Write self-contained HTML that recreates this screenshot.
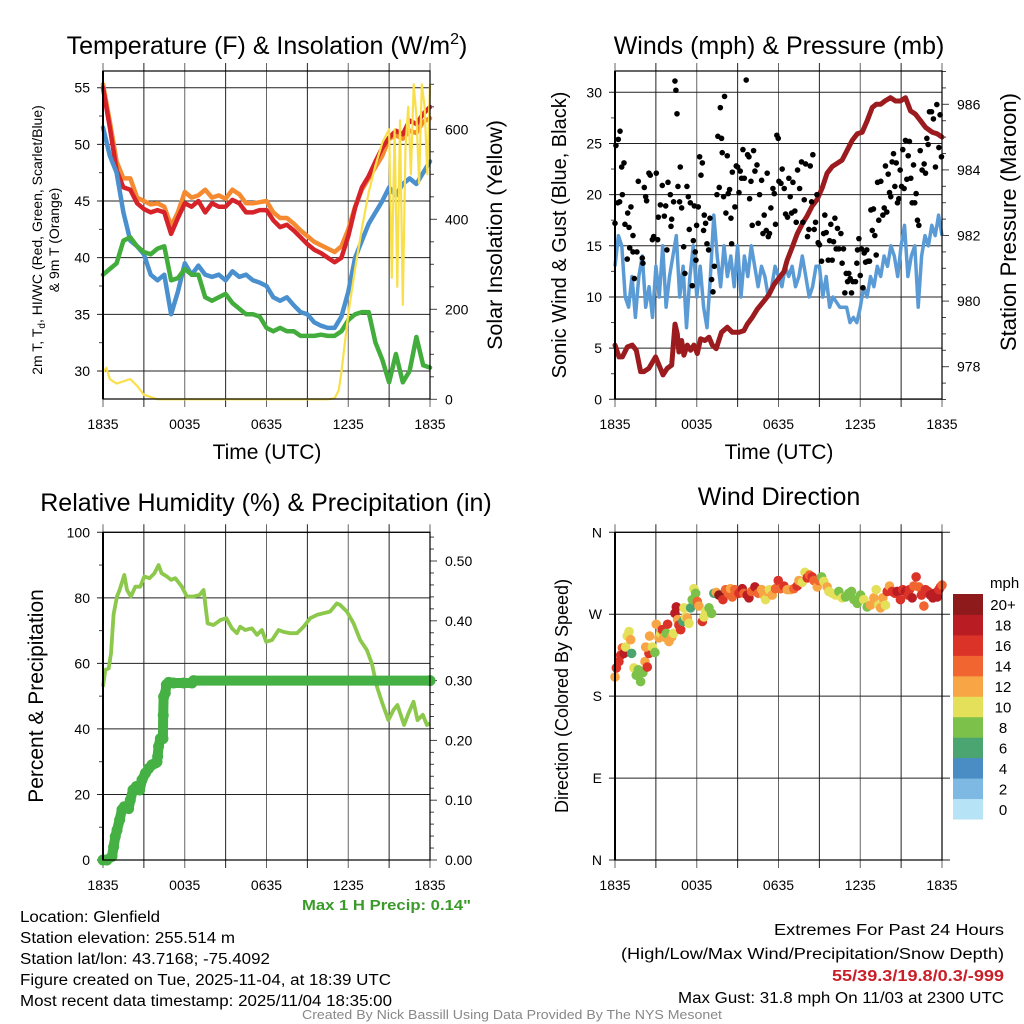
<!DOCTYPE html>
<html><head><meta charset="utf-8"><style>
html,body{margin:0;padding:0;background:#fff;}
svg{display:block;font-family:"Liberation Sans",sans-serif;}
</style></head><body>
<svg id="root" width="1024" height="1024" viewBox="0 0 1024 1024" xmlns="http://www.w3.org/2000/svg">
<rect width="1024" height="1024" fill="#fff"/>
<g id="p1"></g>
<g id="p2"></g>
<g id="p3"></g>
<g id="p4"></g>

<text x="267" y="54" font-size="25" text-anchor="middle">Temperature (F) &amp; Insolation (W/m<tspan font-size="16" dy="-10">2</tspan><tspan dy="10">)</tspan></text>
<text x="779" y="54" font-size="25" text-anchor="middle">Winds (mph) &amp; Pressure (mb)</text>
<text x="266" y="511" font-size="25" text-anchor="middle">Relative Humidity (%) &amp; Precipitation (in)</text>
<text x="779" y="505" font-size="25" text-anchor="middle">Wind Direction</text>

<text x="267" y="459" font-size="21" text-anchor="middle">Time (UTC)</text>
<text x="779" y="459" font-size="21" text-anchor="middle">Time (UTC)</text>

<text transform="translate(42,240) rotate(-90)" font-size="14" text-anchor="middle">2m T, T<tspan font-size="10" dy="3">d</tspan><tspan dy="-3">, HI/WC (Red, Green, Scarlet/Blue)</tspan></text>
<text transform="translate(59,240) rotate(-90)" font-size="14" text-anchor="middle">&amp; 9m T (Orange)</text>
<text transform="translate(502,235) rotate(-90)" font-size="21.5" text-anchor="middle">Solar Insolation (Yellow)</text>
<text transform="translate(566,235) rotate(-90)" font-size="20" text-anchor="middle">Sonic Wind &amp; Gust (Blue, Black)</text>
<text transform="translate(1016,222) rotate(-90)" font-size="22" text-anchor="middle">Station Pressure (Maroon)</text>
<text transform="translate(43,696) rotate(-90)" font-size="21" text-anchor="middle">Percent &amp; Precipitation</text>
<text transform="translate(568,696) rotate(-90)" font-size="18" text-anchor="middle">Direction (Colored By Speed)</text>

<text x="471" y="910" font-size="15" font-weight="bold" fill="#3a9a2a" text-anchor="end" textLength="169" lengthAdjust="spacingAndGlyphs">Max 1 H Precip: 0.14"</text>

<g font-size="15.5">
<text x="20" y="922" textLength="140" lengthAdjust="spacingAndGlyphs">Location: Glenfield</text>
<text x="20" y="943" textLength="215" lengthAdjust="spacingAndGlyphs">Station elevation: 255.514 m</text>
<text x="20" y="964" textLength="250" lengthAdjust="spacingAndGlyphs">Station lat/lon: 43.7168; -75.4092</text>
<text x="20" y="985" textLength="371" lengthAdjust="spacingAndGlyphs">Figure created on Tue, 2025-11-04, at 18:39 UTC</text>
<text x="20" y="1006" textLength="372" lengthAdjust="spacingAndGlyphs">Most recent data timestamp: 2025/11/04 18:35:00</text>
</g>
<g font-size="15.5" text-anchor="end">
<text x="1004" y="935" textLength="230" lengthAdjust="spacingAndGlyphs">Extremes For Past 24 Hours</text>
<text x="1004" y="959" textLength="383" lengthAdjust="spacingAndGlyphs">(High/Low/Max Wind/Precipitation/Snow Depth)</text>
<text x="1004" y="981" fill="#c8202a" font-weight="bold" textLength="172" lengthAdjust="spacingAndGlyphs">55/39.3/19.8/0.3/-999</text>
<text x="1004" y="1003" textLength="326" lengthAdjust="spacingAndGlyphs">Max Gust: 31.8 mph On 11/03 at 2300 UTC</text>
</g>
<text x="512" y="1019" font-size="12.5" fill="#888" text-anchor="middle" textLength="420" lengthAdjust="spacingAndGlyphs">Created By Nick Bassill Using Data Provided By The NYS Mesonet</text>
</svg>
<script>
// ---------- data ----------
const xTickLabels = ["1835","0035","0635","1235","1835"];
const xTickHours = [0,6,12,18,24];

const tempHours = [0,0.5,1,1.5,2,2.5,3,3.5,4,4.5,5,5.5,6,6.5,7,7.5,8,8.5,9,9.5,10,10.5,11,11.5,12,12.5,13,13.5,14,14.5,15,15.5,16,16.5,17,17.5,18,18.5,19,19.5,20,20.5,21,21.5,22,22.5,23,23.5,24];
const temp2m = [55,51.5,47.7,46.2,46,44.8,44.3,44,44.2,44,42.1,43.5,44.8,44.5,45,44,44.8,44.5,44.5,45.1,44.8,44,44,44.2,44.2,43.3,42.7,42.9,42.4,41.8,41.2,40.7,40.4,40,39.6,40,41.9,44.4,46.2,47.2,48.5,49.7,50.6,51.2,50.9,52.1,51.8,52.7,53.3];
const temp9m = [55.3,52,48.5,47,47,45.3,45,44.7,44.8,44.5,42.8,44,45.8,45.3,45.5,46,45.3,45.5,45.2,46,45.6,44.8,44.8,44.9,45,44,43.5,43.5,43,42.4,41.9,41.4,41.1,40.8,40.5,41,42.5,44.5,46,47,48,49,50.5,50.8,50.5,51.2,51,52,52.3];
const windChill = [51.5,49,47.5,44,41.5,41,40.3,38.5,38,38.5,35,37,39.5,38.5,39.3,38.5,38.3,38.5,38,38.8,38.3,38.5,38,37.8,37.5,36.5,36.2,36.5,35.8,35.2,35,34.3,34,33.8,33.8,34.8,37,40,41.5,43,44,45,46.2,45.5,46.5,47,46.5,47.5,48.5];
const dewPoint = [38.5,39,39.5,41.5,41.8,41,40.5,40.3,40.8,41,38,38.2,39,38.5,38.5,36.5,36.2,36.5,36.8,36,35.5,35,35,34.8,33.8,33.5,33.8,33.5,33.5,33.1,33.1,33.1,33.2,33.1,33.1,33.5,34.5,35,35.2,35.2,32.5,31,29,31.5,29,30,33,30.5,30.3];
const solarHours = [0,0.25,0.5,1,1.5,2,2.5,3,3.5,4,16.5,17,17.3,17.5,18,18.5,19,19.5,20,20.5,21,21.2,21.4,21.6,21.8,22,22.2,22.4,22.6,22.8,23,23.2,23.4,23.6,23.8,24];
const solar = [60,70,45,35,40,45,30,10,5,0,0,2,20,60,190,290,380,460,520,570,600,270,600,250,620,210,560,650,500,700,630,480,700,650,500,700];

const windHours = [0,0.25,0.5,0.75,1,1.25,1.5,1.75,2,2.25,2.5,2.75,3,3.25,3.5,3.75,4,4.5,4.75,5,5.25,5.5,5.75,6,6.25,6.5,6.75,7,7.25,7.5,7.75,8,8.25,8.5,8.75,9,9.25,9.5,9.75,10,10.25,10.5,10.75,11,11.25,11.5,11.75,12,12.25,12.5,12.75,13,13.25,13.5,13.75,14,14.25,14.5,14.75,15,15.25,15.5,15.75,16,16.5,17,17.25,17.5,17.75,18,18.25,18.5,18.75,19,19.25,19.5,19.75,20,20.25,20.5,20.75,21,21.25,21.5,21.75,22,22.25,22.5,22.75,23,23.25,23.5,23.75,24];
const windSpeed = [13,16,15,10,9,12,8,12,14,9,11,8,13,10,15,9,12,16,10,13,7,12,15,10,13,9,7,12,18,14,11,15,12,14,11,15,10,14,12,15,13,11,13,12,10,11,13,12,11,13,12,13,11,12,14,12,10,11,13,13,10,12,9,10,9,9,7.5,8,7.5,9,11,10,12,11,13,12,14,13,15,14,12,15,17,12,14,15,9,14,16,15,17,16,18,16];
const gustHours = [0,.07,.24,.37,.2,.34,.54,.49,.66,.73,.93,.9,1.03,1.17,1.08,1.32,1.32,1.42,1.61,1.71,2.0,2.05,2.15,2.25,2.32,2.49,2.59,2.74,2.84,3.03,3.13,3.18,3.33,3.47,3.62,3.72,3.81,3.89,4.06,4.11,4.16,4.3,4.4,4.47,4.55,4.62,4.74,4.79,4.89,5.04,5.13,5.28,5.38,5.45,5.53,5.67,5.75,5.82,5.89,5.94,5.99,6.11,6.21,6.31,6.41,6.5,6.55,6.65,6.75,6.87,6.97,7.09,7.19,7.29,7.48,7.55,7.65,7.73,7.82,7.87,7.97,8.04,8.14,8.24,8.31,8.41,8.51,8.56,8.61,8.8,8.9,9.0,9.1,9.19,9.29,9.39,9.49,9.63,9.73,9.83,9.88,9.98,10.07,10.17,10.27,10.42,10.51,10.61,10.76,10.86,10.95,11.1,11.17,11.25,11.34,11.44,11.59,11.69,11.78,11.88,11.98,12.03,12.18,12.27,12.42,12.52,12.66,12.76,12.86,12.96,13.06,13.2,13.3,13.4,13.55,13.69,13.79,13.89,13.99,14.13,14.23,14.33,14.43,14.52,14.62,14.72,14.82,14.91,15.01,15.16,15.31,15.4,15.5,15.65,15.75,15.84,15.94,16.04,16.14,16.23,16.33,16.43,16.58,16.67,16.77,16.87,16.97,17.07,17.16,17.26,17.36,17.46,17.65,17.75,17.8,17.9,18.0,18.09,18.19,18.29,18.39,18.48,18.58,18.68,18.78,18.88,18.97,19.07,19.17,19.27,19.36,19.51,19.66,19.76,19.85,19.95,20.05,20.15,20.24,20.34,20.44,20.54,20.64,20.73,20.83,20.93,21.03,21.12,21.22,21.32,21.42,21.52,21.61,21.71,21.81,21.91,22.0,22.1,22.2,22.3,22.4,22.54,22.69,22.79,22.89,22.98,23.08,23.23,23.37,23.52,23.62,23.77,23.86,23.96];
const gustSpeed = [17.2,24.8,25.4,26.2,19.2,19.3,20,22.7,23.1,17.1,18.2,13.7,16.8,18.8,14.8,16,14.4,11.8,14.4,21.3,13.8,13.3,20.7,19.8,19.4,22.1,21.9,15.6,15.9,22.1,15.6,17.8,19,20.9,17.9,18.9,14.6,21.2,20,16.9,17.6,19.3,31.1,30.2,27.9,20.8,19.3,22.7,18.7,14.9,12.3,20.8,19.8,16.6,19.2,11.1,15.5,18.9,14.4,13.6,17,18.8,23.7,21.9,23.1,16.5,18,17.2,15.2,14.6,17.7,11.7,10.5,13,20,25.7,20.7,28.5,25.5,24.1,19.8,29.6,18.2,23.8,20.1,20.5,17.7,15.2,22.2,18.8,22.8,22.7,20.2,22.3,21.6,24.4,21.6,31.2,23.9,23.7,19.6,21.3,17,24.3,22.3,22.9,17.2,20,21.4,16.2,18,16.5,22.1,15.9,16.2,18.7,20.6,20.1,17.1,25.8,25.5,21.3,21.1,22.5,20.6,18.1,17.8,21.6,19.8,18.2,21.2,18.4,17.3,22.4,20.6,23.2,17.3,19.5,23,15.9,16.6,22.8,19.3,23.9,16.6,17.3,20,15.3,15.1,13.5,16.2,18,16.3,13.6,15.5,17.1,13.6,15.4,17.7,14.7,16.7,14.7,16.2,13.3,14.7,10.4,12.3,11.5,12.3,11.8,10.4,11.5,11.5,13.3,14.6,15.7,12.1,14.7,10.9,14.3,13.4,14.6,13.5,13.5,18.5,16.5,18.6,16,14.1,21.2,17.5,21.3,18,18.7,22.8,18.3,22,20.2,19.8,23.2,24,20.8,23.1,19.2,19.6,22.4,20.8,24.4,20.6,25.3,21.5,23.8,25.2,21.6,19.2,22.9,19.2,20.1,17.5,17,24.3,22.4,23,22.1,25.5,24.9,28.1,28.1,27.4,22.7,28.8,24.6,27.8,23.7];
const pressHours = [0,.29,.54,.9,1.27,1.56,1.88,2.13,2.49,2.98,3.23,3.52,3.84,4.16,4.4,4.57,4.69,4.89,5.06,5.31,5.55,5.79,6.04,6.28,6.6,6.9,7.14,7.43,7.82,8.24,8.61,9.1,9.46,9.71,10.07,10.44,10.93,11.3,11.66,12.03,12.4,12.64,13.01,13.37,13.74,14.11,14.47,14.84,15.21,15.57,15.94,16.31,16.67,17.04,17.41,17.78,18.14,18.51,18.88,19.17,19.49,19.81,20.22,20.59,20.95,21.32,21.69,22.05,22.42,22.79,23.28,23.65,24];
const pressure = [978.66,978.3,978.3,978.6,978.66,978.5,977.85,977.85,977.95,978.3,978.05,977.75,977.95,978.05,979.3,979.0,978.45,978.8,978.35,978.66,978.5,978.66,978.4,978.85,978.8,978.9,978.66,978.55,979.05,979.2,979.05,979.05,979.1,979.3,979.5,979.75,980.0,980.2,980.5,980.7,980.9,981.25,981.65,982.05,982.35,982.6,982.9,983.1,983.45,983.9,984.1,984.2,984.3,984.6,984.9,985.1,985.15,985.5,985.9,986.0,986.0,986.1,986.2,986.1,986.1,986.2,985.8,985.7,985.5,985.3,985.15,985.1,985.0];

const rhHours = [0,.17,.42,.59,.78,1.03,1.22,1.56,1.76,2.05,2.37,2.74,3.03,3.42,3.77,4.08,4.3,4.69,4.99,5.31,5.79,6.16,6.65,7.09,7.38,7.68,8.12,8.61,9.05,9.46,9.83,10.07,10.44,10.93,11.3,11.66,11.98,12.4,12.89,13.25,13.74,14.23,14.72,15.21,15.7,16.19,16.67,17.16,17.41,17.9,18.39,18.88,19.36,19.73,20.1,20.46,20.95,21.32,21.61,22.1,22.42,22.79,23.08,23.47,23.77,24];
const rh = [52.9,58,58.5,63,75,80.4,82.4,87,82.4,80.4,83.4,83.4,86.5,86,87.5,90,87.5,86.5,85.5,86,83.4,80.4,80.4,80.9,82.4,72.2,71.7,73.2,73.8,70.7,69.2,71.2,70.2,70.7,68.7,70.2,66.6,67.1,70.2,69.6,69.2,69.2,71.2,73.8,74.8,75.3,75.8,78.3,77.8,75.8,72.2,67.1,64.1,60,52.9,48.3,42.7,45.8,47.3,41.2,44.8,48.3,42.7,44.3,41.2,41.7];
const precipHours = [0,.29,.66,.78,.9,1.03,1.22,1.39,1.56,1.88,2.0,2.2,2.45,2.69,2.86,3.11,3.35,3.59,3.84,3.96,4.01,4.08,4.21,4.4,4.42,4.45,4.57,4.65,4.82,5.18,5.92,6.53,6.65,24];
const precip = [0,0,0.006,0.022,0.039,0.05,0.067,0.084,0.089,0.086,0.1,0.117,0.123,0.117,0.134,0.145,0.153,0.159,0.162,0.164,0.173,0.19,0.203,0.203,0.242,0.273,0.279,0.293,0.297,0.296,0.296,0.296,0.30,0.30];

const dirHours = [0,.1,.29,.42,.54,.66,.78,.9,1.03,1.15,1.22,1.39,1.56,1.71,1.88,2.05,2.2,2.37,2.49,2.54,2.25,2.74,2.93,3.03,3.23,3.35,3.47,3.59,3.77,3.86,3.96,4.16,4.3,4.4,4.5,4.6,4.69,4.82,4.99,5.06,5.18,5.31,5.43,5.55,5.67,5.79,5.92,6.04,6.16,6.41,6.53,6.65,6.9,7.09,7.26,7.43,7.63,7.82,7.92,8.12,8.31,8.48,8.61,8.8,9.1,9.34,9.46,9.71,9.83,10.02,10.27,10.51,10.76,10.93,11.05,11.17,11.34,11.54,11.78,11.98,12.15,12.4,12.64,12.89,13.13,13.37,13.5,13.74,13.94,14.11,14.28,14.47,14.6,14.84,14.96,15.16,15.33,15.57,15.7,15.94,16.19,16.43,16.67,16.92,17.16,17.36,17.53,17.78,18.02,18.26,18.51,18.75,19.0,19.17,19.36,19.49,19.66,19.85,19.98,20.15,20.34,20.54,20.71,20.95,21.12,21.32,21.52,21.61,21.81,21.93,22.1,22.3,22.49,22.67,22.79,22.98,23.15,23.33,23.47,23.65,23.77,23.89,24];
const direction = [201,211,218,225,233,227,234,246,251,242,227,211,203,209,196,206,218,212,227,246,234,234,228,259,244,249,253,245,249,259,240,245,249,271,278,264,258,253,262,277,267,266,260,277,286,298,293,284,279,262,267,273,277,271,293,294,291,291,286,297,293,298,289,297,293,298,293,291,288,295,300,293,297,291,286,295,297,291,298,307,298,301,297,297,298,301,307,305,316,310,313,311,307,300,307,311,306,300,295,293,291,295,288,289,293,295,286,282,291,286,278,280,288,297,280,277,288,280,295,301,295,293,295,286,297,295,291,297,288,301,311,300,291,279,297,295,291,288,293,289,297,300,302];
const dirSpeed = [12.5,16.5,16.5,16.5,14.5,18.5,10.5,10.5,10.5,12.5,6.5,10.5,8.5,8.5,8.5,8.5,12.5,16.5,16.5,12.5,12.5,10.5,8.5,12.5,12.5,10.5,16.5,12.5,8.5,16.5,12.5,12.5,10.5,18.5,18.5,12.5,16.5,16.5,6.5,10.5,10.5,12.5,10.5,6.5,8.5,10.5,8.5,14.5,12.5,16.5,10.5,10.5,8.5,8.5,6.5,12.5,21,21,16.5,14.5,14.5,12.5,14.5,14.5,16.5,18.5,14.5,18.5,18.5,14.5,18.5,14.5,12.5,12.5,10.5,12.5,10.5,12.5,14.5,16.5,14.5,16.5,12.5,12.5,14.5,16.5,12.5,10.5,10.5,16.5,14.5,16.5,14.5,12.5,14.5,8.5,10.5,12.5,10.5,10.5,10.5,8.5,10.5,8.5,8.5,8.5,8.5,8.5,8.5,10.5,8.5,12.5,12.5,10.5,10.5,12.5,12.5,10.5,16.5,12.5,16.5,16.5,18.5,16.5,16.5,18.5,16.5,16.5,18.5,14.5,16.5,14.5,16.5,14.5,16.5,16.5,18.5,18.5,18.5,18.5,16.5,16.5,14.5];

const speedBinLabels = ["0","2","4","6","8","10","12","14","16","18","20+"];
const speedBinColors = ["#b6e3f6","#7eb9e3","#4a8dc4","#4aa571","#7cc24a","#e5e05a","#f7a545","#f06530","#db3328","#b91c23","#8e1a1c"];

// ---------- helpers ----------
const NS = "http://www.w3.org/2000/svg";
function mk(parent, tag, attrs){ const e=document.createElementNS(NS,tag); for(const k in attrs) e.setAttribute(k,attrs[k]); parent.appendChild(e); return e; }
function linScale(d0,d1,r0,r1){ return v => r0 + (v-d0)/(d1-d0)*(r1-r0); }
function pathFrom(xs,ys,sx,sy){ let d=""; for(let i=0;i<xs.length;i++){ d+=(i?"L":"M")+sx(xs[i]).toFixed(1)+","+sy(ys[i]).toFixed(1);} return d; }

function frame(g, L, R, T, B, sx){
  for(let h=0; h<=24; h+=3){
    const x=sx(h);
    const ln=mk(g,"line",{x1:x,x2:x,y1:T-8,y2:B+8,stroke:(h%6===0?"#666":"#222"),"stroke-width":1});
    
    
  }
  xTickHours.forEach((h,i)=>{
    const t=mk(g,"text",{x:sx(h),y:B+30,"font-size":14,"text-anchor":"middle"});
    t.textContent=xTickLabels[i];
    
    
  });
}
function box(g,L,R,T,B){
  const r=mk(g,"rect",{x:L,y:T,width:R-L,height:B-T,fill:"none",stroke:"#000","stroke-width":1.2});
  
  
  const l=mk(g,"line",{x1:L,x2:L,y1:T,y2:B,stroke:"#000","stroke-width":2});
  
  
}
function hgrid(g,L,R,y,label,extendR){
  const ln=mk(g,"line",{x1:L-6,x2:R+(extendR||0),y1:y,y2:y,stroke:"#222","stroke-width":1});
  
  
  const t=mk(g,"text",{x:L-13,y:y+5,"font-size":14,"text-anchor":"end"});
  t.textContent=label;
  
  
}
function rightTick(g,R,y,label,major){
  const ln=mk(g,"line",{x1:R,x2:R+(major?7:4),y1:y,y2:y,stroke:"#444","stroke-width":1});
  
  
  if(label!==null){
    const t=mk(g,"text",{x:R+15,y:y+5,"font-size":14});
    t.textContent=label;
    
    
  }
}
function leftMinor(g,L,y){
  const ln=mk(g,"line",{x1:L-4,x2:L,y1:y,y2:y,stroke:"#444","stroke-width":1});
  
  
}

// ---------- panel 1 ----------
(function(){
  const g=document.getElementById("p1");
  const L=103,R=430,T=71,B=399;
  const sx=linScale(0,24,L,R), sy=linScale(30,55,371,87.7), sr=linScale(0,600,399.3,129.3);
  frame(g,L,R,T,B,sx);
  [30,35,40,45,50,55].forEach(v=>hgrid(g,L,R,sy(v),String(v)));
  [32.5,37.5,42.5,47.5,52.5].forEach(v=>leftMinor(g,L,sy(v)));
  for(let v=0; v<=700; v+=50) rightTick(g,R,sr(v), v%200===0?String(v):null, v%200===0);
  const series=[[temp9m,"#f58a30","temp-9m-line"],[temp2m,"#d6232a","temp-2m-line"],[windChill,"#4a90cf","wind-chill-line"],[dewPoint,"#42ad3c","dew-point-line"]];
  series.forEach(s=>{
    const p=mk(g,"path",{d:pathFrom(tempHours,s[0],sx,sy),fill:"none",stroke:s[1],"stroke-width":4.5,"stroke-linejoin":"round","stroke-linecap":"round"});
    
    
  });
  const sp=mk(g,"path",{d:pathFrom(solarHours,solar,sx,v=>Math.max(sr(v),T)),fill:"none",stroke:"#f9e04b","stroke-width":2.2,"stroke-linejoin":"round"});
  
  
  box(g,L,R,T,B);
})();

// ---------- panel 2 ----------
(function(){
  const g=document.getElementById("p2");
  const L=615,R=942,T=71,B=399;
  const sx=linScale(0,24,L,R), sy=linScale(0,30,399.3,92.3), sp=linScale(978,986,366.7,104.3);
  frame(g,L,R,T,B,sx);
  [0,5,10,15,20,25,30].forEach(v=>hgrid(g,L,R,sy(v),String(v)));
  [2.5,7.5,12.5,17.5,22.5,27.5].forEach(v=>leftMinor(g,L,sy(v)));
  for(let v=977; v<=987; v+=0.5) rightTick(g,R,sp(v), (v%2===0)?String(v):null, v%2===0);
  const wp=mk(g,"path",{d:pathFrom(windHours,windSpeed,sx,sy),fill:"none",stroke:"#5b9bd5","stroke-width":3.5,"stroke-linejoin":"round"});
  
  
  const pp=mk(g,"path",{d:pathFrom(pressHours,pressure,sx,sp),fill:"none",stroke:"#9b1b1e","stroke-width":5,"stroke-linejoin":"round","stroke-linecap":"round"});
  
  
  gustHours.forEach((h,i)=>{
    const c=mk(g,"circle",{cx:sx(h),cy:sy(gustSpeed[i]),r:2.8,fill:"#000"});
    
    
  });
  box(g,L,R,T,B);
})();

// ---------- panel 3 ----------
(function(){
  const g=document.getElementById("p3");
  const L=103,R=430,T=532.3,B=860;
  const sx=linScale(0,24,L,R), sy=linScale(0,100,B,T), sp=linScale(0,0.5,860,561);
  frame(g,L,R,T,B,sx);
  [0,20,40,60,80,100].forEach(v=>hgrid(g,L,R,sy(v),String(v)));
  [10,30,50,70,90].forEach(v=>leftMinor(g,L,sy(v)));
  for(let k=0;k<=27;k++){ const v=k*0.02; rightTick(g,R,sp(v),(k%5===0)?v.toFixed(2):null,k%5===0); }
  const rp=mk(g,"path",{d:pathFrom(rhHours,rh,sx,sy),fill:"none",stroke:"#8cc84b","stroke-width":3.8,"stroke-linejoin":"round"});
  
  
  const pl=mk(g,"path",{d:pathFrom(precipHours,precip,sx,sp),fill:"none",stroke:"#45b043","stroke-width":10,"stroke-linejoin":"round","stroke-linecap":"round"});
  
  
  precipHours.forEach((h,i)=>{
    const c=mk(g,"circle",{cx:sx(h),cy:sp(precip[i]),r:5.5,fill:"#45b043"});
    
    
  });
  box(g,L,R,T,B);
})();

// ---------- panel 4 ----------
(function(){
  const g=document.getElementById("p4");
  const L=615,R=942,T=532.3,B=860;
  const sx=linScale(0,24,L,R), sy=linScale(0,360,B,T);
  frame(g,L,R,T,B,sx);
  [["N",0],["E",90],["S",180],["W",270],["N",360]].forEach(d=>hgrid(g,L,R,sy(d[1]),d[0],8));
  dirHours.forEach((h,i)=>{
    const bin=Math.min(10,Math.floor(dirSpeed[i]/2));
    const c=mk(g,"circle",{cx:sx(h),cy:sy(direction[i]),r:4.8,fill:speedBinColors[bin]});
    
    
  });
  box(g,L,R,T,B);
  const cbT=594, cbB=819, bh=(cbB-cbT)/11;
  const u=mk(g,"text",{x:990,y:588,"font-size":15});
  u.textContent="mph";
  
  
  speedBinColors.forEach((col,i)=>{
    const y=cbB-(i+1)*bh;
    const r=mk(g,"rect",{x:953,y:y,width:30,height:bh+0.5,fill:col});
    
    
    const t=mk(g,"text",{x:1003,y:y+bh/2+6,"font-size":15,"text-anchor":"middle"});
    t.textContent=speedBinLabels[i];
    
    
  });
})();
</script>
</body></html>
